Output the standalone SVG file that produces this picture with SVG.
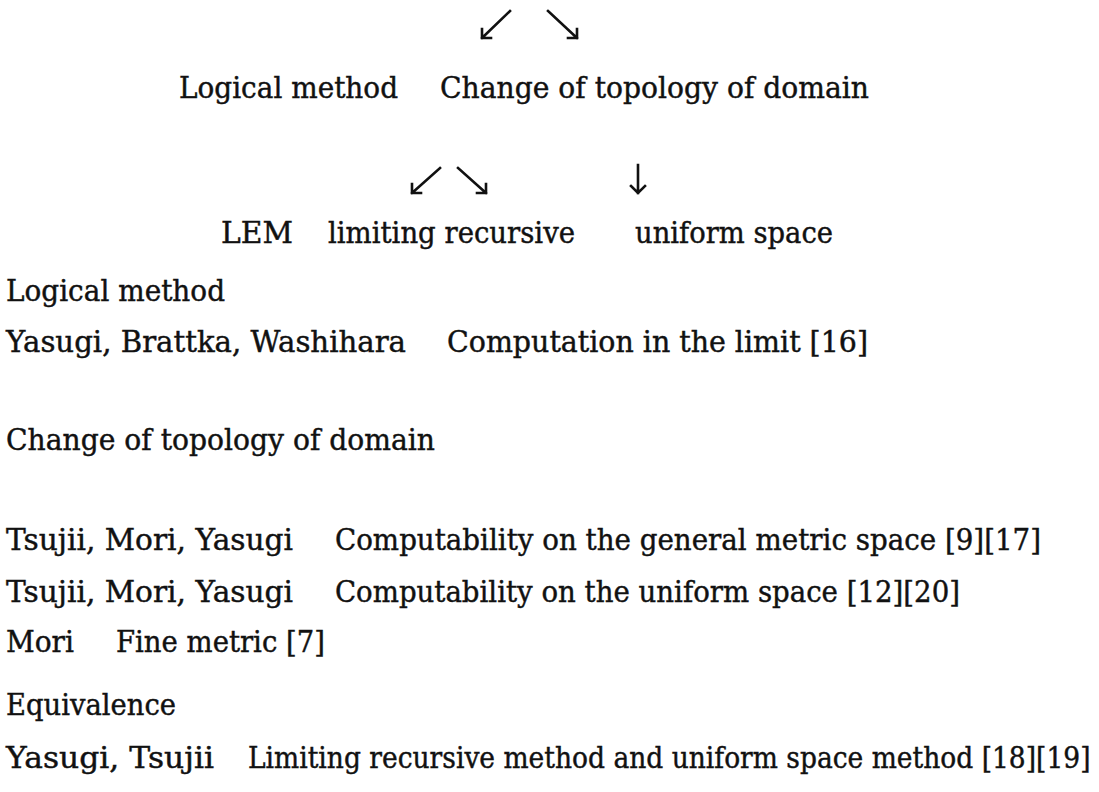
<svg xmlns="http://www.w3.org/2000/svg" width="1099" height="792" viewBox="0 0 1099 792">
<style>
text{font-family:"DejaVu Serif","Liberation Serif",serif;font-size:30px;fill:#111;stroke:#111;stroke-width:0.45;}
.ar{stroke:#111;stroke-width:2.6;fill:none;stroke-linecap:square;}
</style>
<rect width="1099" height="792" fill="#fff"/>
<g id="connectors">
<path class="ar" d="M510,11 L482,38 M482,29 L482,38 L491,38"/>
<path class="ar" d="M548,11 L577,38 M577,29 L577,38 L568,38"/>
<path class="ar" d="M440,168 L412,193 M412,184 L412,193 L421,193"/>
<path class="ar" d="M458,168 L486,193 M486,184 L486,193 L477,193"/>
<path class="ar" d="M638,165 L638,193 M631,186 L638,193 L645,186"/>
</g>
<g id="row1">
<text x="179" y="98" textLength="219" lengthAdjust="spacingAndGlyphs">Logical method</text>
<text x="440" y="98" textLength="429" lengthAdjust="spacingAndGlyphs">Change of topology of domain</text>
</g>
<g id="row2">
<text x="221" y="243" textLength="72" lengthAdjust="spacingAndGlyphs">LEM</text>
<text x="328" y="243" textLength="247" lengthAdjust="spacingAndGlyphs">limiting recursive</text>
<text x="635" y="243" textLength="198" lengthAdjust="spacingAndGlyphs">uniform space</text>
</g>
<g id="logical">
<text x="6" y="301" textLength="219" lengthAdjust="spacingAndGlyphs">Logical method</text>
<text x="6" y="352" textLength="400" lengthAdjust="spacingAndGlyphs">Yasugi, Brattka, Washihara</text>
<text x="447" y="352" textLength="421" lengthAdjust="spacingAndGlyphs">Computation in the limit [16]</text>
</g>
<g id="topology">
<text x="6" y="450" textLength="429" lengthAdjust="spacingAndGlyphs">Change of topology of domain</text>
<text x="6" y="550" textLength="287" lengthAdjust="spacingAndGlyphs">Tsujii, Mori, Yasugi</text>
<text x="335" y="550" textLength="706" lengthAdjust="spacingAndGlyphs">Computability on the general metric space [9][17]</text>
<text x="6" y="602" textLength="287" lengthAdjust="spacingAndGlyphs">Tsujii, Mori, Yasugi</text>
<text x="335" y="602" textLength="625" lengthAdjust="spacingAndGlyphs">Computability on the uniform space [12][20]</text>
<text x="6" y="652" textLength="68" lengthAdjust="spacingAndGlyphs">Mori</text>
<text x="116" y="652" textLength="209" lengthAdjust="spacingAndGlyphs">Fine metric [7]</text>
</g>
<g id="equivalence">
<text x="6" y="715" textLength="170" lengthAdjust="spacingAndGlyphs">Equivalence</text>
<text x="6" y="768" textLength="208" lengthAdjust="spacingAndGlyphs">Yasugi, Tsujii</text>
<text transform="translate(248,768) scale(0.84,1)" x="0" y="0" textLength="1003" lengthAdjust="spacingAndGlyphs">Limiting recursive method and uniform space method [18][19]</text>
</g>
</svg>
